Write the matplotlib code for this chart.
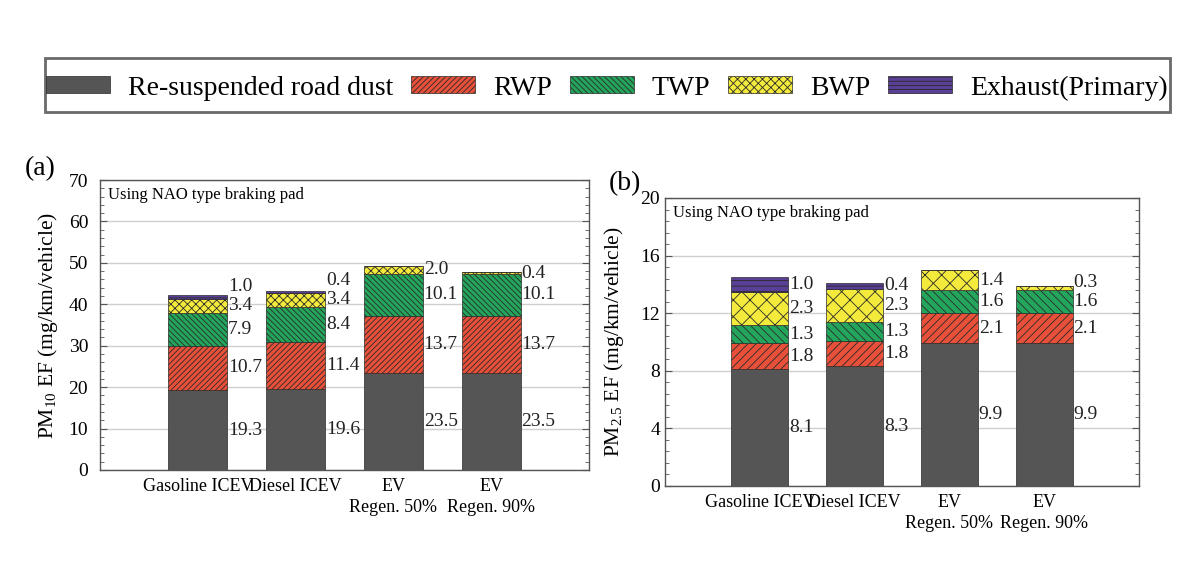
import matplotlib
matplotlib.use("Agg")
import matplotlib.pyplot as plt
import numpy as np
from matplotlib.ticker import MultipleLocator, AutoMinorLocator
from matplotlib.patches import Rectangle

plt.rcParams['font.family'] = ['Liberation Serif', 'DejaVu Serif']
plt.rcParams['mathtext.fontset'] = 'custom'
plt.rcParams['mathtext.rm'] = 'Liberation Serif'
plt.rcParams['mathtext.it'] = 'Liberation Serif:italic'
plt.rcParams['hatch.linewidth'] = 0.6

categories = ["Gasoline ICEV", "Diesel ICEV", "EV\nRegen. 50%", "EV\nRegen. 90%"]
components = ["Re-suspended road dust", "RWP", "TWP", "BWP", "Exhaust(Primary)"]

# PM10 (panel a)
pm10_dust = [19.3, 19.6, 23.5, 23.5]
pm10_rwp = [10.7, 11.4, 13.7, 13.7]
pm10_twp = [7.9, 8.4, 10.1, 10.1]
pm10_bwp = [3.4, 3.4, 2.0, 0.4]
pm10_exh = [1.0, 0.4, 0.0, 0.0]

# PM2.5 (panel b)
pm25_dust = [8.1, 8.3, 9.9, 9.9]
pm25_rwp = [1.8, 1.8, 2.1, 2.1]
pm25_twp = [1.3, 1.3, 1.6, 1.6]
pm25_bwp = [2.3, 2.3, 1.4, 0.3]
pm25_exh = [1.0, 0.4, 0.0, 0.0]

colors = ["#555555", "#E8503A", "#24A55C", "#F3EA3C", "#5A3F96"]
hatches_a = [None, "//////", "\\\\\\\\\\\\", "xxxx", "----"]
hatches_b = [None, "////", "\\\\\\\\", "xx", "---"]

fig = plt.figure(figsize=(12, 5.72), dpi=100)
ax_a = fig.add_axes([100/1200, 1-470/572, 489/1200, 290/572])
ax_b = fig.add_axes([665/1200, 1-486/572, 474/1200, 288/572])


def draw(ax, series, hatches, ymax, major, sep, ylabel, tickpad, labelpad):
    x = np.arange(len(categories))
    bottom = np.zeros(len(categories))
    handles = []
    mids_all = []
    for k, vals in enumerate(series):
        vals = np.array(vals, dtype=float)
        h = ax.bar(x, vals, width=0.6, bottom=bottom, color=colors[k],
                   edgecolor="#2a2a2a", linewidth=0.5, hatch=hatches[k],
                   label=components[k], zorder=3)
        handles.append(h)
        mids_all.append((vals, bottom + vals / 2))
        bottom = bottom + vals
    # value labels
    for i in range(len(categories)):
        prev = -1e9
        for vals, mids in mids_all:
            if vals[i] <= 0:
                continue
            y = max(mids[i], prev + sep)
            prev = y
            ax.text(x[i] + 0.31, y, f"{vals[i]:.1f}", ha="left", va="center",
                    fontsize=14, color="#222222", zorder=4)
    ax.set_xlim(-1, 4)
    ax.set_ylim(0, ymax)
    ax.yaxis.set_major_locator(MultipleLocator(major))
    ax.yaxis.set_minor_locator(AutoMinorLocator(5))
    ax.set_xticks(x)
    ax.set_xticklabels(categories, fontsize=13, linespacing=1.25)
    ax.tick_params(axis="x", length=0, pad=6)
    ax.tick_params(axis="y", which="both", direction="in", right=True,
                   labelsize=14, color="#555555", pad=tickpad)
    ax.tick_params(axis="y", which="major", length=5)
    ax.tick_params(axis="y", which="minor", length=3)
    ax.grid(axis="y", which="major", color="#cfcfcf", linewidth=1.0, zorder=0)
    ax.set_axisbelow(True)
    for s in ax.spines.values():
        s.set_color("#555555")
        s.set_linewidth(1.0)
    ax.set_ylabel(ylabel, fontsize=15.5, labelpad=labelpad)
    ax.text(0.017, 0.975, "Using NAO type braking pad", transform=ax.transAxes,
            ha="left", va="top", fontsize=12)
    return handles


hs = draw(ax_a, [pm10_dust, pm10_rwp, pm10_twp, pm10_bwp, pm10_exh], hatches_a,
          70, 10, 4.6, "PM$_{\\mathrm{10}}$ EF (mg/km/vehicle)", 8.5, 6)
draw(ax_b, [pm25_dust, pm25_rwp, pm25_twp, pm25_bwp, pm25_exh], hatches_b,
     20, 4, 1.35, "PM$_{\\mathrm{2.5}}$ EF (mg/km/vehicle)", 3.5, 10)

fig.text(25/1200, 1-169/572, "(a)", fontsize=20, ha="left", va="center")
fig.text(609/1200, 1-184/572, "(b)", fontsize=20, ha="left", va="center")

leg = fig.legend(handles=hs, labels=components, loc="center left",
                 bbox_to_anchor=(46/1200, 1-115/572, 1122/1200, 54/572),
                 mode="expand", ncol=5, fontsize=20, frameon=False,
                 handlelength=2.3, handleheight=0.55,
                 handletextpad=0.65, borderaxespad=0, borderpad=0,
                 columnspacing=0.5)

fig.patches.append(Rectangle((45/1200, 1-112/572), 1125/1200, 54/572,
                             transform=fig.transFigure, fill=False,
                             edgecolor="#6a6a6a", linewidth=2.0))

fig.savefig("out.png", dpi=100)
